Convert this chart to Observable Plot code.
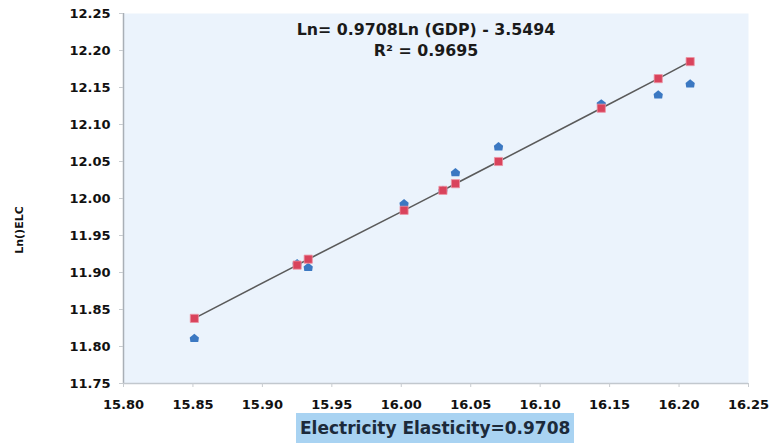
<!DOCTYPE html>
<html>
<head>
<meta charset="utf-8">
<script src="https://cdn.jsdelivr.net/npm/d3@7"></script>
<script src="https://cdn.jsdelivr.net/npm/@observablehq/plot@0.6"></script>
<style>
  body { margin: 0; background: #fff; }
  #wrap { position: relative; width: 780px; height: 443px; overflow: hidden; font-family: "DejaVu Sans", Verdana, sans-serif; }
  #caption { position: absolute; left: 296px; top: 413px; height: 30px; line-height: 30px; padding: 0 4px;
    background: #a9d3f2; color: #1c2a3a; font-weight: bold; font-size: 17px; white-space: nowrap; }
</style>
</head>
<body>
<div id="wrap"><div id="chart"></div><div id="caption">Electricity Elasticity=0.9708</div></div>
<script>
// ln(GDP) values
const lnGDP = [15.851, 15.925, 15.933, 16.002, 16.030, 16.039, 16.070, 16.144, 16.185, 16.208];
// actual ln(ELC)
const lnELCActual = [11.811, 11.912, 11.907, 11.993, 12.011, 12.035, 12.070, 12.128, 12.140, 12.155];
// fitted ln(ELC)
const lnELCFitted = [11.838, 11.910, 11.918, 11.984, 12.011, 12.020, 12.050, 12.122, 12.162, 12.185];
const xTicks = [15.80, 15.85, 15.90, 15.95, 16.00, 16.05, 16.10, 16.15, 16.20, 16.25];
const yTicks = [11.75, 11.80, 11.85, 11.90, 11.95, 12.00, 12.05, 12.10, 12.15, 12.20, 12.25];
const equationText = "Ln= 0.9708Ln (GDP) - 3.5494";
const r2Text = "R² = 0.9695";
const yLabel = "Ln()ELC";

const actual = lnGDP.map((x, i) => ({x, y: lnELCActual[i]}));
const fitted = lnGDP.map((x, i) => ({x, y: lnELCFitted[i]}));

// house-shaped pentagon marker like the Excel series marker
const house = {
  draw(context, size) {
    const r = Math.sqrt(size / Math.PI);
    context.moveTo(0, -r);
    context.lineTo(r, -0.2 * r);
    context.lineTo(0.85 * r, 0.8 * r);
    context.lineTo(-0.85 * r, 0.8 * r);
    context.lineTo(-r, -0.2 * r);
    context.closePath();
  }
};

const chart = Plot.plot({
  width: 780,
  height: 443,
  marginLeft: 123,
  marginRight: 32,
  marginTop: 13,
  marginBottom: 60,
  style: {fontFamily: "'DejaVu Sans', Verdana, sans-serif", fontWeight: "bold", fontSize: "13px", color: "#111", background: "transparent"},
  x: {domain: [15.80, 16.25], label: null},
  y: {domain: [11.75, 12.25], label: null},
  marks: [
    Plot.frame({fill: "#ebf3fc", stroke: null}),
    Plot.ruleX([15.80], {stroke: "#a9afb6", strokeWidth: 1.5}),
    Plot.ruleY([11.75], {stroke: "#c2c8ce", strokeWidth: 1.5}),
    Plot.axisX({ticks: xTicks, tickFormat: d3.format(".2f"), tickSize: 4, tickPadding: 12, stroke: "#c8ccd0", fill: "#111", fontWeight: "bold", fontSize: 13}),
    Plot.axisY({ticks: yTicks, tickFormat: d3.format(".2f"), tickSize: 4, tickPadding: 9, stroke: "#c8ccd0", fill: "#111", fontWeight: "bold", fontSize: 13}),
    Plot.line(fitted, {x: "x", y: "y", stroke: "#5a5a5a", strokeWidth: 1.6}),
    Plot.dot(actual, {x: "x", y: "y", symbol: house, r: 4.6, fill: "#3b78c2", stroke: null}),
    Plot.dot(fitted, {x: "x", y: "y", symbol: "square", r: 4.6, fill: "#d9435c", stroke: "#ec93a3", strokeWidth: 0.8}),
    Plot.text([equationText], {frameAnchor: "top", dx: -10, dy: 10, fontSize: 15.8, fontWeight: "bold", fill: "#1a1a1a"}),
    Plot.text([r2Text], {frameAnchor: "top", dx: -10, dy: 31, fontSize: 15.8, fontWeight: "bold", fill: "#1a1a1a"})
  ]
});
document.getElementById("chart").appendChild(chart);

const svg = d3.select(chart);
svg.selectAll("text")
  .filter(function() { return /^\d+\.\d\d$/.test(this.textContent.trim()); })
  .style("font-size", "13px").style("font-weight", "bold");

// y-axis title
svg.append("text")
  .attr("transform", "translate(20,230) rotate(-90)")
  .attr("text-anchor", "middle")
  .attr("dominant-baseline", "middle")
  .style("font-size", "11px")
  .style("font-weight", "bold")
  .attr("fill", "#111")
  .text(yLabel);
</script>
</body>
</html>
